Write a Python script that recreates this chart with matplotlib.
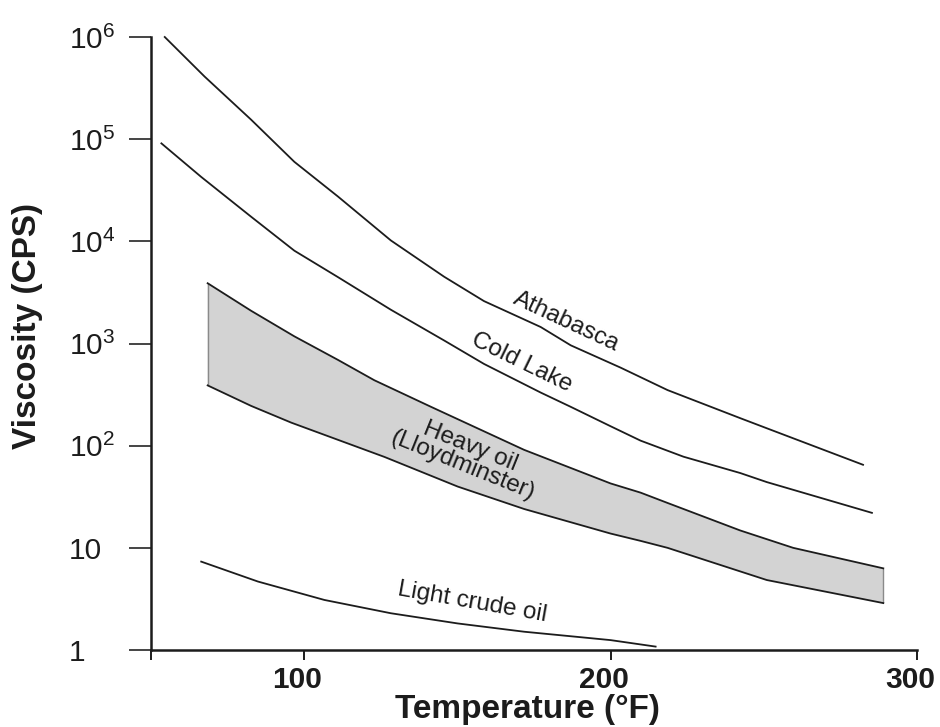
import matplotlib
matplotlib.use('Agg')
import matplotlib.pyplot as plt
import matplotlib.transforms as mtransforms
from matplotlib.ticker import NullLocator
import numpy as np

plt.rcParams['font.family'] = ['Liberation Sans', 'DejaVu Sans']
plt.rcParams['mathtext.fontset'] = 'custom'
plt.rcParams['mathtext.rm'] = 'Liberation Sans'

# ---- data (temperature °F, viscosity cP) ----
athabasca_t = [54.5, 67.5, 82.7, 96.8, 111, 128.3, 145.7, 158.7, 177.2, 187, 203.3,
               218.6, 242.3, 251, 282.4]
athabasca_v = [1.0e6, 4.1e5, 1.55e5, 6.0e4, 2.75e4, 1.02e4, 4.5e3, 2.6e3, 1.45e3, 960, 580,
               350, 186, 148, 65]

coldlake_t = [53.4, 66.4, 82.7, 96.8, 111, 128.3, 145.7, 158.7, 177.2, 187, 200, 209.8,
              223.8, 242.3, 251, 285.3]
coldlake_v = [9.1e4, 4.27e4, 1.74e4, 8.1e3, 4.47e3, 2.14e3, 1.07e3, 631, 331, 240, 155, 112,
              78, 54, 44, 22]

heavy_upper_t = [68.5, 82.7, 96.8, 111, 122.9, 141.4, 171.8, 200, 209.8, 218.6, 242.3, 259.6, 289]
heavy_upper_v = [3890, 2090, 1175, 692, 437, 240, 91, 42.7, 34.7, 27.5, 14.8, 10, 6.3]
heavy_lower_t = [68.5, 82.7, 95.8, 126.2, 150.1, 171.8, 200, 209.8, 218.6, 251, 289]
heavy_lower_v = [389, 245, 168, 77.6, 39.8, 24, 13.8, 11.7, 10, 4.84, 2.88]

light_t = [66.4, 84.9, 106.6, 128.3, 150.1, 171.8, 200, 214.7]
light_v = [7.33, 4.68, 3.09, 2.29, 1.82, 1.51, 1.25, 1.08]

x_ticks = [50, 100, 200, 300]
x_ticklabels = ['', '100', '200', '300']
y_ticks = [1, 10, 1e2, 1e3, 1e4, 1e5, 1e6]
y_ticklabels = ['1', '10', r'$\mathregular{10^2}$', r'$\mathregular{10^3}$',
                r'$\mathregular{10^4}$', r'$\mathregular{10^5}$', r'$\mathregular{10^6}$']

ink = '#1c1c1c'

fig = plt.figure(figsize=(9.4, 7.27), dpi=100)
ax = fig.add_axes([0.1606, 0.1059, 0.8149, 0.8432])
ax.set_yscale('log')
ax.set_xlim(50, 300)
ax.set_ylim(1, 1e6)

# heavy oil band
band_x = np.concatenate([heavy_upper_t, heavy_lower_t[::-1]])
band_y = np.concatenate([heavy_upper_v, heavy_lower_v[::-1]])
ax.fill(band_x, band_y, facecolor='#d3d3d3', edgecolor='none', zorder=1)
ax.vlines([heavy_upper_t[0], heavy_upper_t[-1]],
          [heavy_lower_v[0], heavy_lower_v[-1]],
          [heavy_upper_v[0], heavy_upper_v[-1]], color='#8a8a8a', lw=1.0, zorder=2)
ax.plot(heavy_upper_t, heavy_upper_v, color=ink, lw=1.3, zorder=3)
ax.plot(heavy_lower_t, heavy_lower_v, color=ink, lw=1.3, zorder=3)

ax.plot(athabasca_t, athabasca_v, color=ink, lw=1.3, clip_on=False, zorder=3)
ax.plot(coldlake_t, coldlake_v, color=ink, lw=1.3, clip_on=False, zorder=3)
ax.plot(light_t, light_v, color=ink, lw=1.3, clip_on=False, zorder=3)

# curve labels
lab_kw = dict(ha='center', va='center', rotation_mode='anchor', fontsize=17.5, color=ink)
ax.text(185.7, 1620, 'Athabasca', rotation=-25, **lab_kw)
ax.text(171, 656, 'Cold Lake', rotation=-26, **lab_kw)
ax.text(153.1, 79, 'Heavy oil\n(Lloydminster)', rotation=-22, linespacing=0.9,
        multialignment='center', **lab_kw)
ax.text(154.7, 2.95, 'Light crude oil', rotation=-10, **lab_kw)

# axes styling
for s in ['top', 'right']:
    ax.spines[s].set_visible(False)
for s in ['left', 'bottom']:
    ax.spines[s].set_linewidth(1.8)
    ax.spines[s].set_color(ink)

ax.set_xticks(x_ticks)
ax.set_xticklabels(x_ticklabels, fontsize=21.5, fontweight='bold', color=ink)
ax.tick_params(axis='x', length=7.2, width=1.4, direction='out', pad=4, color=ink)
shift = mtransforms.ScaledTranslation(-5 / 72, 0, fig.dpi_scale_trans)
for lbl in ax.xaxis.get_majorticklabels():
    lbl.set_transform(lbl.get_transform() + shift)

ax.set_yticks(y_ticks)
ax.yaxis.set_minor_locator(NullLocator())
ax.set_yticklabels(y_ticklabels, fontsize=21.5, color=ink)
ax.tick_params(axis='y', length=16, width=1.4, direction='out', pad=43, color='#444444')
for lbl in ax.get_yticklabels():
    lbl.set_horizontalalignment('left')

ax.set_xlabel('Temperature (°F)', fontsize=24, fontweight='bold', color=ink)
ax.xaxis.set_label_coords(0.492, -0.072)
ax.set_ylabel('Viscosity (CPS)', fontsize=24, fontweight='bold', color=ink)
ax.yaxis.set_label_coords(-0.141, 0.5285)

fig.savefig('out.png', dpi=100, facecolor='white')
